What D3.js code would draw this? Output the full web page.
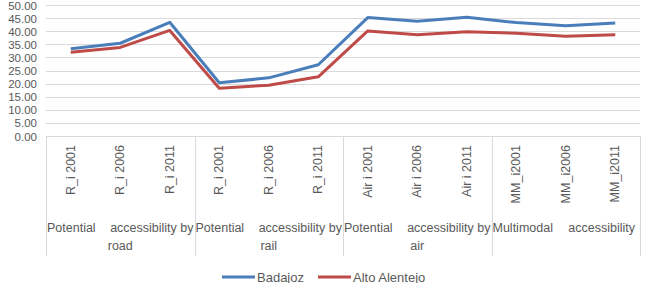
<!DOCTYPE html>
<html>
<head>
<meta charset="utf-8">
<title>Accessibility</title>
<style>
  html, body { margin: 0; padding: 0; background: #fff; }
  svg { display: block; }
  text { font-family: "Liberation Sans", Arial, sans-serif; fill: #595959; }
  .grid line { stroke: #d9d9d9; stroke-width: 1px; }
  .line { fill: none; stroke-width: 3px; stroke-linejoin: round; }
</style>
</head>
<body>
<svg></svg>
<script src="https://d3js.org/d3.v7.min.js"></script>
<script>
  const categories = ["R_i 2001", "R_i 2006", "R_i 2011",
                      "R_i 2001", "R_i 2006", "R_i 2011",
                      "Air i 2001", "Air i 2006", "Air i 2011",
                      "MM_i2001", "MM_i2006", "MM_i2011"];
  // group label: [first word, rest of first line, second line]
  const groups = [
    ["Potential", "accessibility by", "road"],
    ["Potential", "accessibility by", "rail"],
    ["Potential", "accessibility by", "air"],
    ["Multimodal", "accessibility", ""]
  ];
  const badajoz = [33.3, 35.4, 43.4, 20.3, 22.2, 27.2, 45.2, 43.8, 45.3, 43.3, 42.1, 43.1];
  const altoAlentejo = [32.0, 33.8, 40.3, 18.2, 19.4, 22.6, 40.1, 38.6, 39.8, 39.2, 38.1, 38.6];
  const yTicks = [0, 5, 10, 15, 20, 25, 30, 35, 40, 45, 50];
  const series = [
    { name: "Badajoz", values: badajoz, color: "#4a7ebb" },
    { name: "Alto Alentejo", values: altoAlentejo, color: "#be4b48" }
  ];

  const width = 645, height = 283;
  const plotL = 46, plotR = 640, plotT = 5, plotB = 136;

  const svg = d3.select("svg").attr("width", width).attr("height", height);

  const x = d3.scaleBand().domain(d3.range(categories.length)).range([plotL, plotR]);
  const y = d3.scaleLinear().domain([0, 50]).range([plotB, plotT]);

  // gridlines
  svg.append("g").attr("class", "grid")
    .selectAll("line").data(yTicks.slice(1)).join("line")
    .attr("x1", plotL).attr("x2", plotR)
    .attr("y1", d => Math.round(y(d)) + 0.5).attr("y2", d => Math.round(y(d)) + 0.5);

  // y labels (top one kept inside the frame)
  svg.append("g").selectAll("text").data(yTicks).join("text")
    .attr("x", 37).attr("y", d => Math.max(y(d) + 4.5, 10.2))
    .attr("text-anchor", "end").attr("font-size", 11.5)
    .text(d => d.toFixed(2));

  // category axis line + separators
  svg.append("line").attr("x1", plotL).attr("x2", plotR)
    .attr("y1", plotB + 0.5).attr("y2", plotB + 0.5).attr("stroke", "#d9d9d9");
  const groupSize = 3;
  const bounds = d3.range(groups.length + 1).map(i =>
    i < groups.length ? x(i * groupSize) : plotR);
  svg.append("g").selectAll("line").data(bounds).join("line")
    .attr("x1", d => Math.round(d) + 0.5).attr("x2", d => Math.round(d) + 0.5)
    .attr("y1", plotB).attr("y2", 256)
    .attr("stroke", "#d9d9d9");

  // rotated category labels
  svg.append("g").selectAll("text").data(categories).join("text")
    .attr("transform", (d, i) => `translate(${x(i) + x.bandwidth() / 2 + 4},145) rotate(-90)`)
    .attr("text-anchor", "end").attr("font-size", 12.5)
    .text(d => d);

  // group labels
  groups.forEach((g, i) => {
    const x0 = bounds[i] + 1, x1 = bounds[i + 1] - 1;
    svg.append("text").attr("font-size", 12.5)
      .attr("x", x0).attr("y", 232).text(g[0]);
    svg.append("text").attr("font-size", 12.5)
      .attr("x", i === groups.length - 1 ? x1 - 4 : x1).attr("y", 232)
      .attr("text-anchor", "end").text(g[1]);
    if (g[2]) {
      svg.append("text").attr("font-size", 12.5)
        .attr("x", (x0 + x1) / 2).attr("y", 250)
        .attr("text-anchor", "middle").text(g[2]);
    }
  });

  // lines
  const line = d3.line()
    .x((d, i) => x(i) + x.bandwidth() / 2)
    .y(d => y(d));
  svg.append("g").selectAll("path").data(series).join("path")
    .attr("class", "line")
    .attr("stroke", d => d.color)
    .attr("d", d => line(d.values));

  // legend
  const legendX = [222, 318];
  const lg = svg.append("g").selectAll("g").data(series).join("g")
    .attr("transform", (d, i) => `translate(${legendX[i]},277)`);
  lg.append("line").attr("x1", 0).attr("x2", 33).attr("y1", 0).attr("y2", 0)
    .attr("stroke", d => d.color).attr("stroke-width", 3);
  lg.append("text").attr("x", 35).attr("y", 4.5).attr("font-size", 13)
    .text(d => d.name);
</script>
</body>
</html>
